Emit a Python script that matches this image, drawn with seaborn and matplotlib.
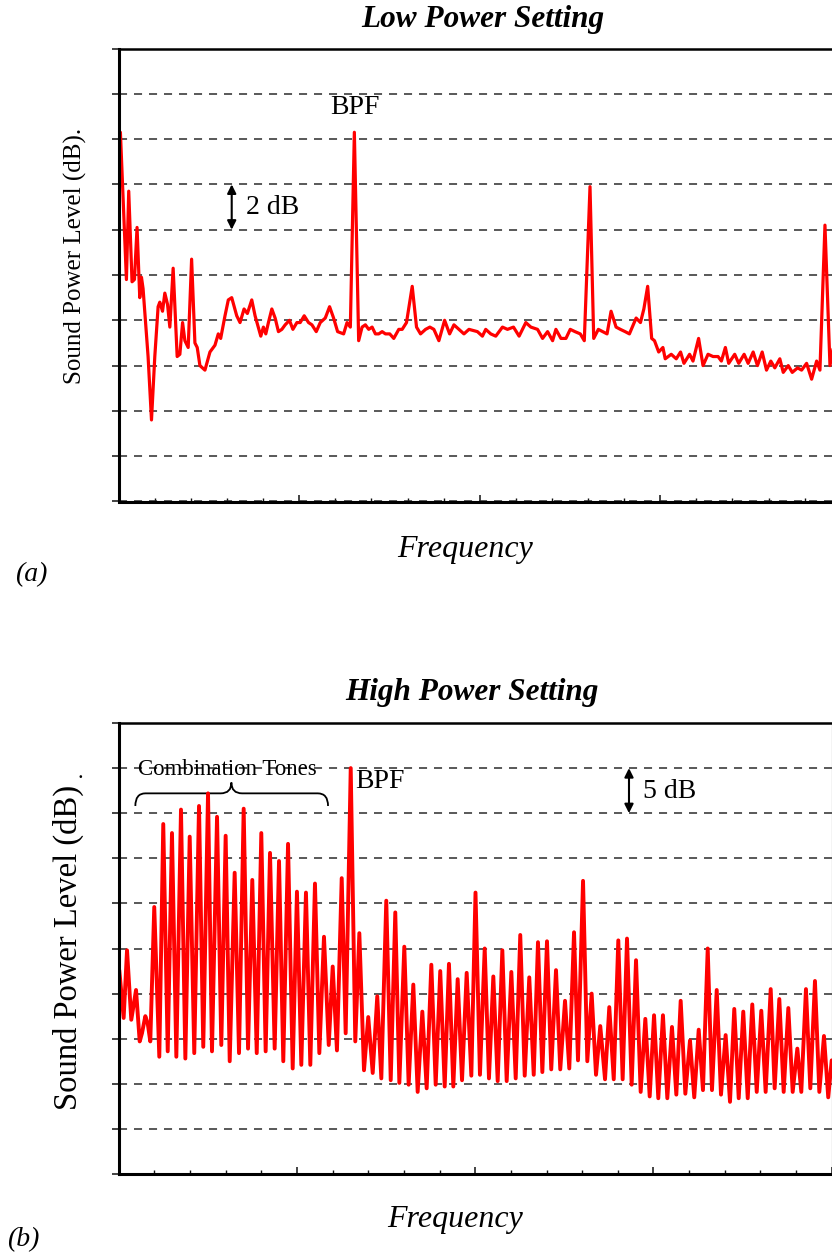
import numpy as np
import matplotlib
matplotlib.use("Agg")
import matplotlib.pyplot as plt
from matplotlib.path import Path
from matplotlib.patches import PathPatch
import seaborn as sns

# Low power setting spectrum (frequency in arbitrary units, level in dB)
low_freq = [1.7, 7.7, 10, 13.3, 15.7, 18.3, 21, 22.7, 24.3, 29.3,
            32.7, 36, 39.3, 41, 43.7, 46, 48.7, 51, 54.3, 58.3,
            61, 63.7, 66, 69.3, 72.7, 76, 78.3, 81, 86, 91,
            96, 99.3, 101.7, 106, 109.3, 112.7, 117.7, 121, 125, 128.3,
            132.7, 136, 141.7, 144.3, 146.7, 149.3, 152.7, 156, 159.3, 162.7,
            166, 170.3, 173.7, 177.7, 181, 185, 189.3, 192.7, 197, 201,
            206, 210.3, 214.3, 218.3, 224.3, 227.7, 231, 235, 239.3, 242.7,
            246, 249.3, 252.7, 256, 259.3, 262.7, 266, 270.3, 274.3, 279.3,
            282.7, 287, 292.7, 297, 301, 306, 310.3, 314.3, 319.3, 325,
            330, 334.3, 339.3, 344.3, 349.3, 357.7, 362.7, 366, 371, 376,
            382.7, 387.7, 393.7, 399.3, 406, 411, 417.7, 422.7, 427.7, 432.7,
            436, 441, 446, 450.3, 455, 460.3, 464.3, 470, 473.7, 478.3,
            482.7, 487, 491, 496, 500.3, 505, 509.3, 516, 520.3, 523.7,
            527.5, 531.5, 534.3, 538.5, 542.7, 545, 551, 556, 560.3, 563.7,
            569.3, 572.7, 578.3, 582.7, 587.7, 592.7, 597.7, 601, 605, 608.3,
            614.3, 618.3, 623.7, 627.7, 632.7, 637, 641.7, 646, 650.3, 654.3,
            659.3, 662.7, 667.7, 671.7, 677, 681, 686, 691, 696, 699.3,
            704.3, 709.3, 713, 717]
low_level = [76.3, 69.8, 73.7, 69.7, 69.8, 72.1, 69.0, 69.9, 69.4, 66.4,
             63.6, 66.4, 68.6, 68.8, 68.4, 69.2, 68.7, 67.7, 70.3, 66.4,
             66.5, 67.9, 67.1, 66.8, 70.7, 67.0, 66.8, 66.0, 65.8, 66.6,
             66.9, 67.4, 67.2, 68.2, 68.9, 69.0, 68.2, 67.9, 68.5, 68.3,
             68.9, 68.2, 67.3, 67.7, 67.4, 67.9, 68.5, 68.1, 67.5, 67.6,
             67.8, 68.0, 67.6, 67.9, 67.9, 68.2, 67.9, 67.8, 67.5, 67.9,
             68.1, 68.6, 68.1, 67.5, 67.4, 67.9, 67.7, 76.3, 67.1, 67.7,
             67.8, 67.6, 67.7, 67.4, 67.4, 67.5, 67.4, 67.4, 67.2, 67.6,
             67.6, 67.9, 69.5, 67.7, 67.4, 67.6, 67.7, 67.6, 67.1, 68.0,
             67.4, 67.8, 67.6, 67.4, 67.6, 67.5, 67.3, 67.6, 67.4, 67.3,
             67.7, 67.6, 67.7, 67.3, 67.9, 67.7, 67.6, 67.2, 67.5, 67.1,
             67.6, 67.2, 67.2, 67.6, 67.5, 67.4, 67.1, 73.9, 67.2, 67.6,
             67.5, 67.4, 68.4, 67.7, 67.6, 67.5, 67.4, 68.1, 67.9, 68.5,
             69.5, 67.2, 67.1, 66.6, 66.8, 66.3, 66.5, 66.3, 66.6, 66.1,
             66.5, 66.2, 67.2, 66.0, 66.5, 66.4, 66.4, 66.2, 66.8, 66.1,
             66.5, 66.1, 66.5, 66.1, 66.6, 66.0, 66.6, 65.8, 66.2, 65.9,
             66.3, 65.7, 66.0, 65.7, 65.9, 65.8, 66.1, 65.4, 66.2, 65.8,
             72.2, 66.0, 66.9, 66.7]

# High power setting spectrum (alternating peaks and troughs)
high_freq = [0.6, 5.0, 8.4, 12.7, 17.5, 21.2, 23.5, 26.9, 29.3, 31.9,
             35.9, 41.0, 45.0, 49.5, 53.8, 58.2, 62.9, 67.3, 71.7, 76.3,
             81.1, 85.4, 90.2, 94.2, 99.3, 103.6, 108.0, 112.1, 117.1, 121.5,
             126.2, 130.6, 134.9, 139.4, 144.0, 148.4, 152.8, 157.5, 161.9, 166.2,
             171.0, 175.7, 180.0, 184.4, 189.1, 193.5, 198.2, 202.6, 207.3, 212.1,
             216.1, 220.4, 225.2, 229.2, 234.3, 238.9, 243.0, 247.7, 252.0, 256.5,
             261.1, 265.2, 270.2, 274.7, 279.3, 283.4, 288.4, 292.8, 297.5, 301.9,
             306.6, 311.0, 315.7, 320.1, 324.7, 329.2, 333.5, 337.9, 342.3, 346.7,
             351.4, 356.1, 360.3, 364.8, 369.6, 373.9, 378.3, 382.7, 387.4, 391.8,
             396.5, 400.9, 405.5, 410.0, 414.6, 419.1, 423.4, 427.8, 432.5, 436.8,
             441.6, 445.9, 450.7, 455.0, 459.8, 463.8, 468.9, 473.2, 477.6, 482.0,
             486.3, 491.1, 495.4, 499.9, 504.5, 508.9, 513.3, 518.0, 522.4, 527.1,
             531.8, 536.2, 540.6, 544.9, 549.6, 554.0, 558.7, 563.1, 567.5, 572.2,
             576.9, 581.2, 585.7, 590.0, 594.8, 599.1, 603.9, 608.2, 612.9, 617.3,
             621.6, 626.1, 630.7, 635.2, 639.8, 644.3, 648.9, 653.3, 658.4, 662.4,
             667.1, 671.5, 676.2, 680.6, 685.3, 689.3, 694.0, 698.4, 703.1, 707.5,
             712.2, 716.5, 720.0]
high_level = [72.6, 67.3, 74.8, 67.1, 70.4, 64.7, 65.6, 67.5, 66.7, 64.7,
              79.6, 63.0, 88.8, 63.6, 87.8, 63.0, 90.4, 62.8, 87.4, 63.4,
              90.8, 64.1, 92.2, 63.6, 89.6, 64.3, 87.5, 62.5, 83.4, 63.4,
              90.5, 63.9, 82.6, 63.4, 87.8, 63.6, 85.6, 63.9, 84.7, 62.5,
              86.6, 61.7, 81.3, 62.1, 81.2, 62.1, 82.2, 63.4, 76.3, 64.3,
              73.0, 63.7, 82.8, 65.6, 95.0, 64.7, 76.7, 61.5, 67.4, 61.2,
              69.7, 60.6, 80.3, 60.4, 79.0, 60.1, 75.2, 59.9, 71.0, 59.1,
              68.0, 59.5, 73.2, 59.9, 72.5, 59.7, 73.3, 59.7, 71.6, 60.4,
              72.3, 60.9, 81.2, 61.0, 75.0, 60.6, 71.9, 60.3, 74.8, 60.3,
              72.4, 60.6, 76.5, 60.9, 71.8, 61.0, 75.7, 61.3, 75.8, 61.6,
              72.6, 61.6, 69.2, 61.7, 76.8, 62.6, 82.5, 62.5, 70.0, 61.0,
              66.4, 60.5, 68.5, 60.5, 75.9, 60.5, 76.1, 59.9, 73.7, 59.1,
              67.2, 58.6, 67.6, 58.4, 67.6, 58.4, 66.3, 58.8, 69.2, 58.9,
              64.8, 58.5, 66.0, 59.3, 75.0, 59.3, 70.4, 58.8, 65.4, 58.0,
              68.3, 58.4, 68.0, 58.4, 68.8, 59.1, 68.1, 59.1, 70.5, 59.5,
              69.4, 59.1, 68.4, 59.1, 63.9, 59.1, 70.5, 59.5, 71.4, 59.1,
              65.3, 58.5, 62.6]

titles = ["Low Power Setting", "High Power Setting"]
panel_tags = ["(a)", "(b)"]

sns.set_style("ticks")
plt.rcParams["font.family"] = ["Liberation Serif", "DejaVu Serif"]
plt.rcParams["text.color"] = "black"
plt.rcParams["lines.scale_dashes"] = False

W, H = 832, 1258
fig = plt.figure(figsize=(W / 100, H / 100), dpi=100)

ax1 = fig.add_axes([118.7 / W, 1 - 501.5 / H, 722 / W, 453 / H])
ax2 = fig.add_axes([118.7 / W, 1 - 1174 / H, 713 / W, 451 / H])


def style_axes(ax, ylim, ystep):
    ax.set_xlim(0, 720)
    ax.set_ylim(*ylim)
    ax.set_yticks(np.arange(ylim[0], ylim[1] + 0.01, ystep))
    ax.set_xticks(np.arange(0, 721, 180))
    ax.set_xticks(np.arange(0, 721, 36), minor=True)
    ax.set_xticklabels([])
    ax.set_yticklabels([])
    ax.set_xlabel("")
    ax.set_ylabel("")
    ax.tick_params(axis="y", direction="out", length=5, width=1.1, color="#111111")
    ax.tick_params(axis="x", which="major", direction="in", length=5, width=1.1, color="#111111")
    ax.tick_params(axis="x", which="minor", direction="in", length=3, width=1.0, color="#111111")
    ax.yaxis.grid(True, linestyle=(0, (5.8, 5.0)), color="#2b2b2b", lw=1.1)
    ax.set_axisbelow(True)
    ax.spines["left"].set_linewidth(2.2)
    ax.spines["bottom"].set_linewidth(2.2)
    ax.spines["top"].set_linewidth(1.8)
    ax.spines["right"].set_linewidth(0.8)
    ax.spines["right"].set_color("#444444")
    for s in ["left", "bottom", "top"]:
        ax.spines[s].set_color("black")


sns.lineplot(x=low_freq, y=low_level, ax=ax1, color="#ff0000", lw=2.3,
             sort=False, estimator=None)
sns.lineplot(x=high_freq, y=high_level, ax=ax2, color="#ff0000", lw=2.8,
             sort=False, estimator=None)
style_axes(ax1, (60, 80), 2)
style_axes(ax2, (50, 100), 5)

arrow = dict(arrowstyle="<|-|>", color="black", lw=1.5, mutation_scale=13,
             shrinkA=0, shrinkB=0)

# (a) annotations
ax1.text(211, 77.4, "BPF", fontsize=20, ha="left", va="center")
ax1.annotate("", xy=(112.7, 74), xytext=(112.7, 72), arrowprops=arrow)
ax1.text(127, 73.0, "2 dB", fontsize=20, ha="left", va="center")

# (b) annotations
ax2.text(238.6, 93.5, "BPF", fontsize=20, ha="left", va="center")
ax2.annotate("", xy=(515.3, 95), xytext=(515.3, 90), arrowprops=arrow)
ax2.text(529.4, 92.4, "5 dB", fontsize=20, ha="left", va="center")
ax2.text(109.4, 94.9, "Combination Tones", fontsize=16.5, ha="center", va="center")

brace = Path(
    [(16.8, 90.8), (16.8, 92.2), (27, 92.2), (103, 92.2),
     (113.8, 92.2), (113.8, 93.4), (113.8, 92.2), (124.6, 92.2),
     (201, 92.2), (211.4, 92.2), (211.4, 90.8)],
    [Path.MOVETO, Path.CURVE3, Path.CURVE3, Path.LINETO,
     Path.CURVE3, Path.CURVE3, Path.CURVE3, Path.CURVE3,
     Path.LINETO, Path.CURVE3, Path.CURVE3])
ax2.add_patch(PathPatch(brace, fill=False, lw=1.3, color="black"))

# titles and axis labels
fig.text(483 / W, 1 - 20 / H, titles[0], fontsize=22.5, fontweight="bold",
         style="italic", ha="center", va="center")
fig.text(472 / W, 1 - 692 / H, titles[1], fontsize=22.5, fontweight="bold",
         style="italic", ha="center", va="center")
fig.text(75 / W, 1 - 256 / H, "Sound Power Level (dB).", fontsize=18,
         rotation=90, ha="center", va="center")
fig.text(68 / W, 1 - 947 / H, "Sound Power Level (dB)", fontsize=23.5,
         rotation=90, ha="center", va="center")
fig.text(80 / W, 1 - 774 / H, ".", fontsize=16, ha="center", va="center")
fig.text(465 / W, 1 - 550 / H, "Frequency", fontsize=23, style="italic",
         ha="center", va="center")
fig.text(455 / W, 1 - 1220 / H, "Frequency", fontsize=23, style="italic",
         ha="center", va="center")
fig.text(31 / W, 1 - 575 / H, panel_tags[0], fontsize=20, style="italic",
         ha="center", va="center")
fig.text(23 / W, 1 - 1240 / H, panel_tags[1], fontsize=20, style="italic",
         ha="center", va="center")

fig.savefig("out.png", dpi=100)
